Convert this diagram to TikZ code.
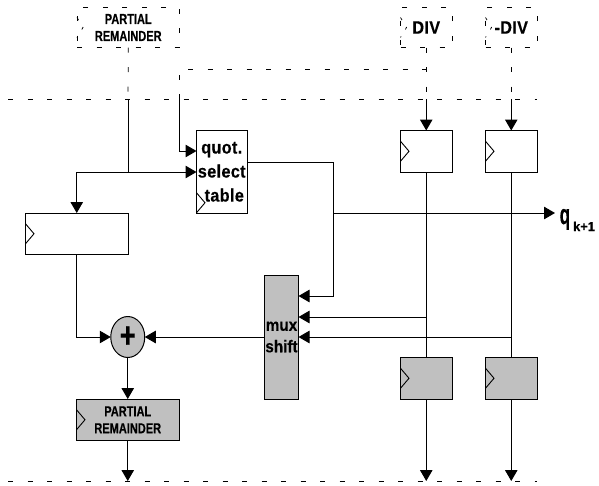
\documentclass[tikz,border=0pt]{standalone}
\usepackage{fontspec}
\setmainfont{Liberation Sans}[FakeStretch=0.76,BoldFeatures={FakeStretch=0.76,FakeBold=0.35}]
\newfontfamily\widebold{Liberation Sans}[FakeStretch=0.9,BoldFeatures={FakeStretch=0.9,FakeBold=0.35}]
\usetikzlibrary{arrows.meta,calc,shapes.geometric}
\newcommand{\smalltxt}{\fontsize{14.5}{17}\selectfont\bfseries}
\newcommand{\bigtxt}{\widebold\fontsize{18}{24}\selectfont\bfseries\addfontfeature{LetterSpace=2}}
\newcommand{\muxtxt}{\widebold\fontsize{17}{21.5}\selectfont\bfseries}
\newcommand{\clk}[2]{\draw[clkline] ($(#1.west)+(0,#2-10)$) -- ++(8.5,10) -- ++(-8.5,10);}
\definecolor{boxgray}{HTML}{C0C0C0}
\tikzset{
  x=1pt,y=-1pt,
  wire/.style={line width=1pt,black},
  ar/.style={wire,-{Triangle[length=11pt,width=12.5pt]}},
  dashwire/.style={line width=0.75pt,black,dash pattern=on 5pt off 14.5pt},
  blk/.style={draw=black,line width=1pt,inner sep=0pt,outer sep=0pt,align=center},
  wbox/.style={blk,fill=white},
  gbox/.style={blk,fill=boxgray},
  dbox/.style={draw=black,line width=0.75pt,dash pattern=on 5pt off 14.5pt,inner sep=0pt,outer sep=0pt,align=center},
  clkline/.style={line width=0.9pt,black},
  dclk/.style={line width=0.7pt,black,dash pattern=on 3pt off 8pt},
}
\begin{document}
\begin{tikzpicture}
\useasboundingbox (0,0) rectangle (599,485);
% nodes
\node[dbox,font=\smalltxt,minimum width=102.5pt,minimum height=40pt] (prtop) at (128.25,27.5) {PARTIAL\\REMAINDER};
\node[dbox,font=\bigtxt,minimum width=51.5pt,minimum height=40pt] (divtop) at (426.25,27.5) {DIV};
\node[dbox,font=\bigtxt,minimum width=51.5pt,minimum height=40pt] (ndivtop) at (511.25,27.5) {-DIV};
\node[wbox,font=\bigtxt,minimum width=50.5pt,minimum height=82.5pt] (quot) at (221.75,171.75) {quot.\\select\\\hspace*{5pt}table};
\node[wbox,minimum width=51.5pt,minimum height=41.5pt] (divreg) at (426.25,151.25) {};
\node[wbox,minimum width=51.5pt,minimum height=41.5pt] (ndivreg) at (511.25,151.25) {};
\node[wbox,minimum width=102.5pt,minimum height=41.5pt] (reg) at (76.75,233.75) {};
\node[gbox,font=\muxtxt,minimum width=34pt,minimum height=124pt] (mux) at (281.5,337) {mux\\shift};
\node[gbox,ellipse,minimum width=34pt,minimum height=41pt] (add) at (127.75,337) {};
\node[gbox,font=\smalltxt,minimum width=102.5pt,minimum height=41.5pt] (prbot) at (127.75,419.75) {PARTIAL\\REMAINDER};
\node[gbox,minimum width=51.5pt,minimum height=41.5pt] (divbot) at (426.25,378.25) {};
\node[gbox,minimum width=51.5pt,minimum height=41.5pt] (ndivbot) at (511.25,378.25) {};
\node[inner sep=0pt] (plus) at (127.75,337) {\fontsize{36}{36}\selectfont\bfseries +};
\node[anchor=base west,inner sep=0pt] (qlabel) at (559.5,224) {\scalebox{.8}[1]{\fontsize{28}{28}\selectfont\bfseries q}\kern3pt\raisebox{-7pt}{\scalebox{1.3}[1]{\fontsize{13}{13}\selectfont\bfseries k+1}}};
% free coordinates
\coordinate (topL) at (8,99);
\coordinate (topR) at (537,99);
\coordinate (botL) at (8,481);
\coordinate (botR) at (537,481);
\coordinate (midL) at (179,69);
\coordinate (midR) at (426.25,69);
\coordinate (prj) at (128,99);
\coordinate (midj) at (179,99);
\coordinate (divj) at (426.25,99);
\coordinate (ndivj) at (511.25,99);
\coordinate (split) at (128,172);
\coordinate (qin1) at (196.5,151);
\coordinate (qin2) at (196.5,172);
\coordinate (out) at (333,162);
\coordinate (qbus) at (333,213);
\coordinate (qtip) at (555,213);
\coordinate (m1) at (298.5,296);
\coordinate (m2) at (298.5,317);
\coordinate (m3) at (298.5,337);
\coordinate (prend) at (127.75,481);
\coordinate (divend) at (426.25,481);
\coordinate (ndivend) at (511.25,481);
% dashed lines
\draw[dashwire] (topL) -- (topR);
\draw[dashwire] (botL) -- (botR);
\draw[dashwire] (midj) -- (midL) -- (midR);
\draw[dashwire] (prtop.south) -- (prj);
\draw[dashwire] (divtop.south) -- (divj);
\draw[dashwire] (ndivtop.south) -- (ndivj);
% clocks on the dashed boxes
\draw[dclk] ($(prtop.west)+(0,-10)$) -- ++(6,10) -- ++(-6,10);
\draw[dclk] ($(divtop.west)+(0,-10)$) -- ++(6,10) -- ++(-6,10);
\draw[dclk] ($(ndivtop.west)+(0,-10)$) -- ++(6,10) -- ++(-6,10);
% wires
\draw[ar] (prj) -- (split) -| (reg.north);
\draw[ar] (split) -- (qin2);
\draw[ar] (midj) |- (qin1);
\draw[ar] (divj) -- (divreg.north);
\draw[ar] (ndivj) -- (ndivreg.north);
\draw[ar] (reg.south) |- (add.west);
\draw[ar] (mux.west |- add) -- (add.east);
\draw[ar] (add.south) -- (prbot.north);
\draw[ar] (prbot.south) -- (prend);
\draw[wire] (quot.east |- out) -- (out) -- (qbus);
\draw[ar] (qbus) |- (m1);
\draw[ar] (qbus) -- (qtip);
\draw[wire] (divreg.south) -- (divbot.north);
\draw[wire] (ndivreg.south) -- (ndivbot.north);
\draw[ar] (divreg.south |- m2) -- (m2);
\draw[ar] (ndivreg.south |- m3) -- (m3);
\draw[ar] (divbot.south) -- (divend);
\draw[ar] (ndivbot.south) -- (ndivend);
% clocks
\clk{quot}{31}
\clk{divreg}{0}
\clk{ndivreg}{0}
\clk{reg}{0}
\clk{prbot}{0}
\clk{divbot}{0}
\clk{ndivbot}{0}
\end{tikzpicture}
\end{document}
